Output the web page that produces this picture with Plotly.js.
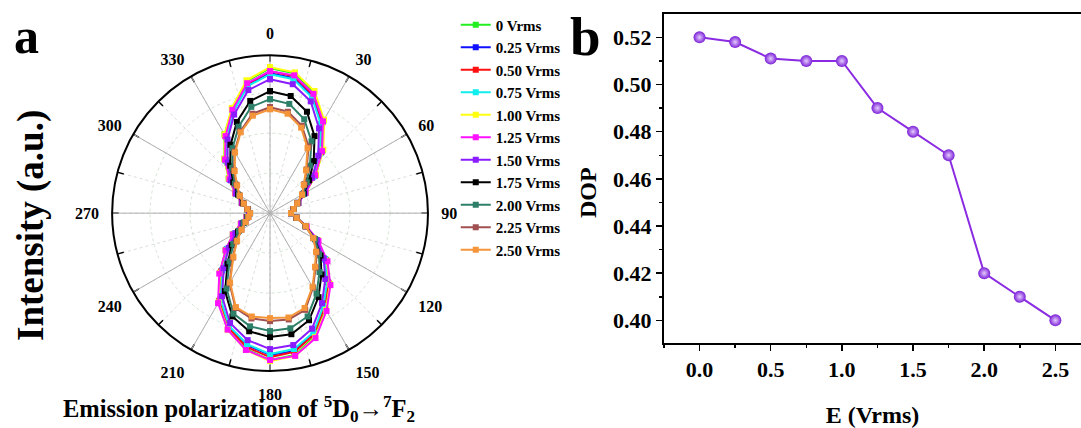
<!DOCTYPE html>
<html>
<head>
<meta charset="utf-8">
<script src="https://cdn.plot.ly/plotly-3.0.1.min.js"></script>
<style>html,body{margin:0;padding:0;background:#fff;}#chart{width:1081px;height:428px;}</style>
</head>
<body>
<div id="chart"></div>
<script>
// ---- Panel a: polar intensity (angle in degrees, intensity in a.u.) ----
const angles = [0,10,20,30,40,50,60,70,80,90,100,110,120,130,140,150,160,170,180,190,200,210,220,230,240,250,260,270,280,290,300,310,320,330,340,350,360];

const seriesNames = ['0 Vrms','0.25 Vrms','0.50 Vrms','0.75 Vrms','1.00 Vrms','1.25 Vrms','1.50 Vrms','1.75 Vrms','2.00 Vrms','2.25 Vrms','2.50 Vrms'];
const seriesColors = ['#22ee22','#1010ff','#ff1010','#10eeee','#ffff10','#ff10ff','#8a1cff','#000000','#2e7f68','#a05050','#f5953a'];

const i000 = [145,142,129,107,82,60,41,30,24,21,27,38,55,74,93,111,131,144,147,138,123,102,78,58,43,31,24,21,23,30,40,54,71,91,111,134,145];
const i025 = [140,137,125,103,79,58,40,30,24,21,27,38,54,72,90,108,128,140,142,134,121,100,75,56,42,30,24,21,23,30,39,52,69,88,108,130,140];
const i050 = [142,139,126,105,80,58,41,30,24,21,27,38,55,73,91,109,129,141,144,136,122,101,76,57,42,31,24,21,23,30,40,53,69,89,109,131,142];
const i075 = [139,136,123,102,78,57,40,30,24,21,27,38,54,72,89,107,127,138,141,133,120,99,74,56,41,30,24,21,23,30,39,52,68,87,108,129,139];
const i100 = [146,143,130,108,83,60,41,30,24,21,27,38,55,74,93,112,132,145,148,139,124,103,78,58,43,31,24,21,23,30,40,54,71,91,112,135,146];
const i125 = [142,140,127,106,81,59,41,30,24,21,27,39,56,75,94,113,133,145,147,139,124,104,79,58,43,31,24,21,23,30,40,53,70,89,110,132,142];
const i150 = [134,131,119,98,75,55,40,30,24,21,27,38,54,70,86,104,123,134,136,129,117,96,72,54,40,30,23,21,23,29,39,51,66,85,105,125,134];
const i175 = [122,119,108,89,68,51,39,29,24,21,27,38,52,66,80,97,114,123,124,120,110,90,66,50,37,28,23,20,23,29,37,48,62,79,97,114,122];
const i200 = [114,111,100,83,62,48,38,29,24,21,27,38,52,64,77,93,110,117,118,115,107,87,63,48,36,28,23,20,23,28,36,46,59,75,92,108,114];
const i225 = [106,103,93,77,57,45,37,29,24,21,27,38,50,61,71,86,103,108,108,107,101,81,58,44,33,26,22,20,23,28,35,44,56,71,87,101,106];
const i250 = [104,101,91,75,56,44,37,29,24,21,27,38,50,60,70,85,101,106,105,105,100,80,57,43,33,26,22,20,23,28,35,43,55,70,86,99,104];

const seriesData = [i000,i025,i050,i075,i100,i125,i150,i175,i200,i225,i250];

// ---- Panel b: DOP vs field ----
const fieldE = [0,0.25,0.5,0.75,1.0,1.25,1.5,1.75,2.0,2.25,2.5];
const dopValues = [0.520,0.518,0.511,0.510,0.510,0.490,0.480,0.470,0.420,0.410,0.400];

const angTickMajor = [0,30,60,90,120,150,180,210,240,270,300,330];
const angTickMinor = [15,45,75,105,135,165,195,225,255,285,315,345];

const serif = 'Liberation Serif, Times New Roman, serif';

const traces = [];
// helper (grid + tick marks only) subplot
traces.push({type:'scatterpolar', subplot:'polar', r:[], theta:[], showlegend:false, hoverinfo:'skip'});
seriesData.forEach((d, i) => {
  traces.push({
    type:'scatterpolar', subplot:'polar2', mode:'lines+markers',
    r: d, theta: angles, name: seriesNames[i],
    line:{color: seriesColors[i], width:2},
    marker:{color: seriesColors[i], symbol:'square', size:6}
  });
});
traces.push({
  type:'scatter', x: fieldE, y: dopValues, xaxis:'x', yaxis:'y', mode:'lines+markers',
  showlegend:false,
  line:{color:'#8a2be2', width:2},
  marker:{color:'#7a1fd6', size:12, gradient:{type:'radial', color:'#e6ccff'}}
});

const polarDomain = {x:[0.1036, 0.396], y:[0.133, 0.871]};

const layout = {
  width:1081, height:428,
  margin:{l:0, r:0, t:0, b:0},
  paper_bgcolor:'#fff', plot_bgcolor:'#fff',
  font:{family: serif, color:'#000', size:15, weight:'bold'},
  showlegend:true,
  legend:{x:0.4216, y:0.980, xanchor:'left', yanchor:'top', bgcolor:'rgba(0,0,0,0)',
    font:{family: serif, size:15, color:'#000', weight:'bold'}, traceorder:'normal'},
  polar:{
    domain: polarDomain, bgcolor:'rgba(0,0,0,0)',
    angularaxis:{rotation:90, direction:'clockwise', tickmode:'array', tickvals: angTickMajor.concat(angTickMinor),
      showticklabels:false, ticks:'inside', ticklen:6, tickcolor:'#000', tickwidth:1.5,
      showline:false, showgrid:true, gridcolor:'#dcdcdc', griddash:'dot', gridwidth:1},
    radialaxis:{visible:true, range:[0,158], showline:false, showticklabels:false, ticks:'',
      tickvals:[40,80,120], showgrid:true, gridcolor:'#d6e4d6', griddash:'dot', gridwidth:1}
  },
  polar2:{
    domain: polarDomain, bgcolor:'rgba(0,0,0,0)',
    angularaxis:{rotation:90, direction:'clockwise', tickmode:'array', tickvals: angTickMajor,
      ticktext: angTickMajor.map(String), ticks:'outside', ticklen:9, tickcolor:'rgba(0,0,0,0)', tickwidth:1,
      showline:true, linecolor:'#000', linewidth:2, showgrid:true, gridcolor:'#b0b0b0', gridwidth:1,
      tickfont:{family: serif, size:16, color:'#000', weight:'bold'}},
    radialaxis:{visible:true, range:[0,158], showline:false, showticklabels:false, ticks:'', showgrid:false}
  },
  xaxis:{domain:[0.6142, 1], anchor:'y', range:[-0.25, 2.68], tickmode:'linear', tick0:0, dtick:0.5,
    tickformat:'.1f', ticks:'outside', ticklen:6, tickwidth:1.5, tickcolor:'#000',
    minor:{dtick:0.25, tick0:0, ticks:'outside', ticklen:3, tickwidth:1.5, tickcolor:'#000', showgrid:false},
    showline:true, linecolor:'#000', linewidth:2, mirror:true, showgrid:false, zeroline:false,
    tickfont:{family: serif, size:22, color:'#000', weight:'bold'},
    title:{text:'E (Vrms)', font:{family: serif, size:24, color:'#000', weight:'bold'}, standoff:26},
    automargin:false},
  yaxis:{domain:[0.1986, 0.9673], anchor:'x', range:[0.3904, 0.5299], tickmode:'linear', tick0:0.40, dtick:0.02,
    tickformat:'.2f', ticks:'outside', ticklen:6, tickwidth:1.5, tickcolor:'#000',
    minor:{dtick:0.01, tick0:0.40, ticks:'outside', ticklen:3, tickwidth:1.5, tickcolor:'#000', showgrid:false},
    showline:true, linecolor:'#000', linewidth:2, mirror:true, showgrid:false, zeroline:false,
    tickfont:{family: serif, size:22, color:'#000', weight:'bold'},
    automargin:false},
  annotations:[
    {text:'a', xref:'paper', yref:'paper', x:26/1081, y:1-36/428, xanchor:'center', yanchor:'middle', showarrow:false,
      font:{family: serif, size:50, color:'#000', weight:'bold'}},
    {text:'b', xref:'paper', yref:'paper', x:585/1081, y:1-36/428, xanchor:'center', yanchor:'middle', showarrow:false,
      font:{family: serif, size:55, color:'#000', weight:'bold'}},
    {text:'DOP', xref:'paper', yref:'paper', x:588/1081, y:1-193/428, xanchor:'center', yanchor:'middle',
      textangle:-90, showarrow:false,
      font:{family: serif, size:24, color:'#000', weight:'bold'}},
    {text:'Intensity (a.u.)', xref:'paper', yref:'paper', x:31/1081, y:1-226/428, xanchor:'center', yanchor:'middle',
      textangle:-90, showarrow:false,
      font:{family: serif, size:37, color:'#000', weight:'bold'}},
    {text:'Emission polarization of <sup>5</sup>D<sub>0</sub>\u2192<sup>7</sup>F<sub>2</sub>', xref:'paper', yref:'paper',
      x:239/1081, y:0.5/428, xanchor:'center', yanchor:'bottom', showarrow:false,
      font:{family: serif, size:24.5, color:'#000', weight:'bold'}}
  ]
};

Plotly.newPlot('chart', traces, layout, {displayModeBar:false, staticPlot:true});
</script>
</body>
</html>
